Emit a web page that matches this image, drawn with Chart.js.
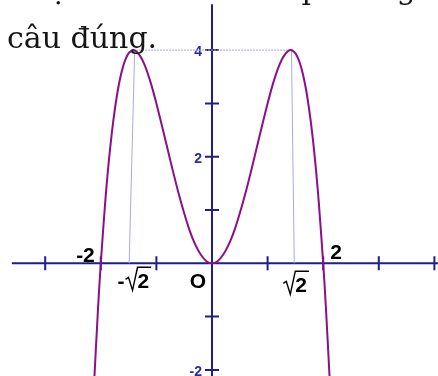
<!DOCTYPE html>
<html>
<head>
<meta charset="utf-8">
<script src="https://cdn.jsdelivr.net/npm/chart.js@4.4.1/dist/chart.umd.min.js"></script>
<style>
  html, body { margin: 0; padding: 0; background: #fff; overflow: hidden; }
  #wrap { position: relative; width: 438px; height: 376px; overflow: hidden; }
  #plot { position: absolute; left: 0; top: 0; }
  #prompt {
    position: absolute; left: 7px; top: -36px;
    font: 30px/49px "DejaVu Serif", serif; color: #161616;
    white-space: nowrap; pointer-events: none;
  }
</style>
</head>
<body>
<div id="wrap">
  <canvas id="plot" width="438" height="376"></canvas>
  <div id="prompt">Chọn theo như các phương án sau là<br>câu đúng.</div>
</div>
<script>
// y = -x^4 + 4x^2, read point by point
const curveX = [-2.13, -2.05, -2.0, -1.9, -1.8, -1.7, -1.6, -1.5, -1.41, -1.3, -1.2, -1.1, -1.0,
                -0.9, -0.8, -0.7, -0.6, -0.5, -0.4, -0.3, -0.2, -0.1, 0,
                0.1, 0.2, 0.3, 0.4, 0.5, 0.6, 0.7, 0.8, 0.9,
                1.0, 1.1, 1.2, 1.3, 1.41, 1.5, 1.6, 1.7, 1.8, 1.9, 2.0, 2.05, 2.13]
const curveY = [-2.44, -0.85, 0, 1.41, 2.46, 3.21, 3.69, 3.94, 4.0, 3.90, 3.69, 3.38, 3.0,
                2.58, 2.15, 1.72, 1.31, 0.94, 0.61, 0.35, 0.16, 0.04, 0,
                0.04, 0.16, 0.35, 0.61, 0.94, 1.31, 1.72, 2.15, 2.58,
                3.0, 3.38, 3.69, 3.90, 4.0, 3.94, 3.69, 3.21, 2.46, 1.41, 0, -0.85, -2.44]

// thin guides from the two maxima
const guideTop   = [[-1.42, 4], [1.46, 4]]
const guideLeft  = [[-1.39, 4], [-1.49, 0]]
const guideRight = [[1.43, 4], [1.48, 0]]

// axes
const xAxisSpan = [-3.6, 4.1]
const yAxisSpan = [-2.3, 4.86]
const xTicks = [-3, -2, -1, 1, 2, 3, 4]
const yTicks = [-2, -1, 1, 2, 3, 4]
const yLabelValues = [4, 2, -2]
const yLabelTexts  = ['4', '2', '-2']
const xLabelValues = [-2, -Math.SQRT2, 0, Math.SQRT2, 2]
const xLabelTexts  = ['-2', '-√2', 'O', '√2', '2']

const AXIS = '#1f1f8c'
const CURVE = '#8a0f8a'
const GUIDE = '#a7a7e6'
const LABEL_FONT = 'bold 21px "Liberation Sans", Arial, sans-serif'

// [dx, dy, align] for the black axis labels
const xLabelPlace = [
  [-6, -1, 'right'],
  [0, 25, 'center'],
  [-14, 25, 'center'],
  [4, 29, 'center'],
  [7, -4, 'left'],
]

const pts = (xs, ys) => xs.map((x, i) => ({ x, y: ys[i] }))
const seg = s => s.map(([x, y]) => ({ x, y }))

function drawRadical(ctx, text, cx, base) {
  const [pre, digit] = text.split('√')
  const preW = pre ? ctx.measureText(pre).width : 0
  const digW = ctx.measureText(digit).width
  const radW = 13
  let sx = cx - (preW + radW + digW) / 2
  ctx.textAlign = 'left'
  if (pre) ctx.fillText(pre, sx, base)
  sx += preW + 1
  ctx.beginPath()
  ctx.moveTo(sx, base - 9)
  ctx.lineTo(sx + 3, base - 11)
  ctx.lineTo(sx + 7, base + 2)
  ctx.lineTo(sx + 12, base - 21)
  ctx.lineTo(sx + radW + digW + 1, base - 21)
  ctx.lineWidth = 1.4
  ctx.stroke()
  ctx.fillText(digit, sx + radW - 1, base)
}

const axesPlugin = {
  id: 'axes',
  beforeDatasetsDraw(chart) {
    const { ctx, scales: { x, y } } = chart
    const x0 = x.getPixelForValue(0)
    const y0 = y.getPixelForValue(0)
    ctx.save()
    ctx.strokeStyle = AXIS
    ctx.lineWidth = 2
    ctx.beginPath()
    ctx.moveTo(x.getPixelForValue(xAxisSpan[0]), y0)
    ctx.lineTo(x.getPixelForValue(xAxisSpan[1]), y0)
    ctx.moveTo(x0, y.getPixelForValue(yAxisSpan[0]))
    ctx.lineTo(x0, y.getPixelForValue(yAxisSpan[1]))
    xTicks.forEach(v => {
      const px = x.getPixelForValue(v)
      ctx.moveTo(px, y0 - 7)
      ctx.lineTo(px, y0 + 7)
    })
    yTicks.forEach(v => {
      const py = y.getPixelForValue(v)
      ctx.moveTo(x0 - 7, py)
      ctx.lineTo(x0 + 7, py)
    })
    ctx.stroke()

    ctx.fillStyle = '#2a2aa6'
    ctx.font = 'bold 14px "Liberation Sans", Arial, sans-serif'
    ctx.textAlign = 'right'
    ctx.textBaseline = 'top'
    yLabelValues.forEach((v, i) => {
      ctx.fillText(yLabelTexts[i], x0 - 10, y.getPixelForValue(v) - 5)
    })
    ctx.restore()
  },
  afterDatasetsDraw(chart) {
    const { ctx, scales: { x, y } } = chart
    const y0 = y.getPixelForValue(0)
    ctx.save()
    ctx.fillStyle = '#000'
    ctx.strokeStyle = '#000'
    ctx.font = LABEL_FONT
    ctx.textBaseline = 'alphabetic'
    xLabelValues.forEach((v, i) => {
      const [dx, dy, align] = xLabelPlace[i]
      const px = x.getPixelForValue(v) + dx
      const text = xLabelTexts[i]
      if (text.includes('√')) {
        drawRadical(ctx, text, px, y0 + dy)
      } else {
        ctx.textAlign = align
        ctx.fillText(text, px, y0 + dy)
      }
    })
    ctx.restore()
  },
}

new Chart(document.getElementById('plot'), {
  type: 'scatter',
  data: {
    datasets: [
      {
        data: pts(curveX, curveY),
        showLine: true,
        borderColor: CURVE,
        borderWidth: 2,
        tension: 0.3,
        pointRadius: 0,
      },
      { data: seg(guideTop), showLine: true, borderColor: GUIDE, borderWidth: 1, borderDash: [2, 1], pointRadius: 0 },
      { data: seg(guideLeft), showLine: true, borderColor: GUIDE, borderWidth: 1, pointRadius: 0 },
      { data: seg(guideRight), showLine: true, borderColor: GUIDE, borderWidth: 1, pointRadius: 0 },
    ],
  },
  options: {
    responsive: false,
    animation: false,
    events: [],
    layout: { padding: 0 },
    plugins: { legend: { display: false }, tooltip: { enabled: false } },
    scales: {
      x: { type: 'linear', min: -3.813, max: 4.065, display: false },
      y: { type: 'linear', min: -2.114, max: 4.94, display: false },
    },
  },
  plugins: [axesPlugin],
})
</script>
</body>
</html>
